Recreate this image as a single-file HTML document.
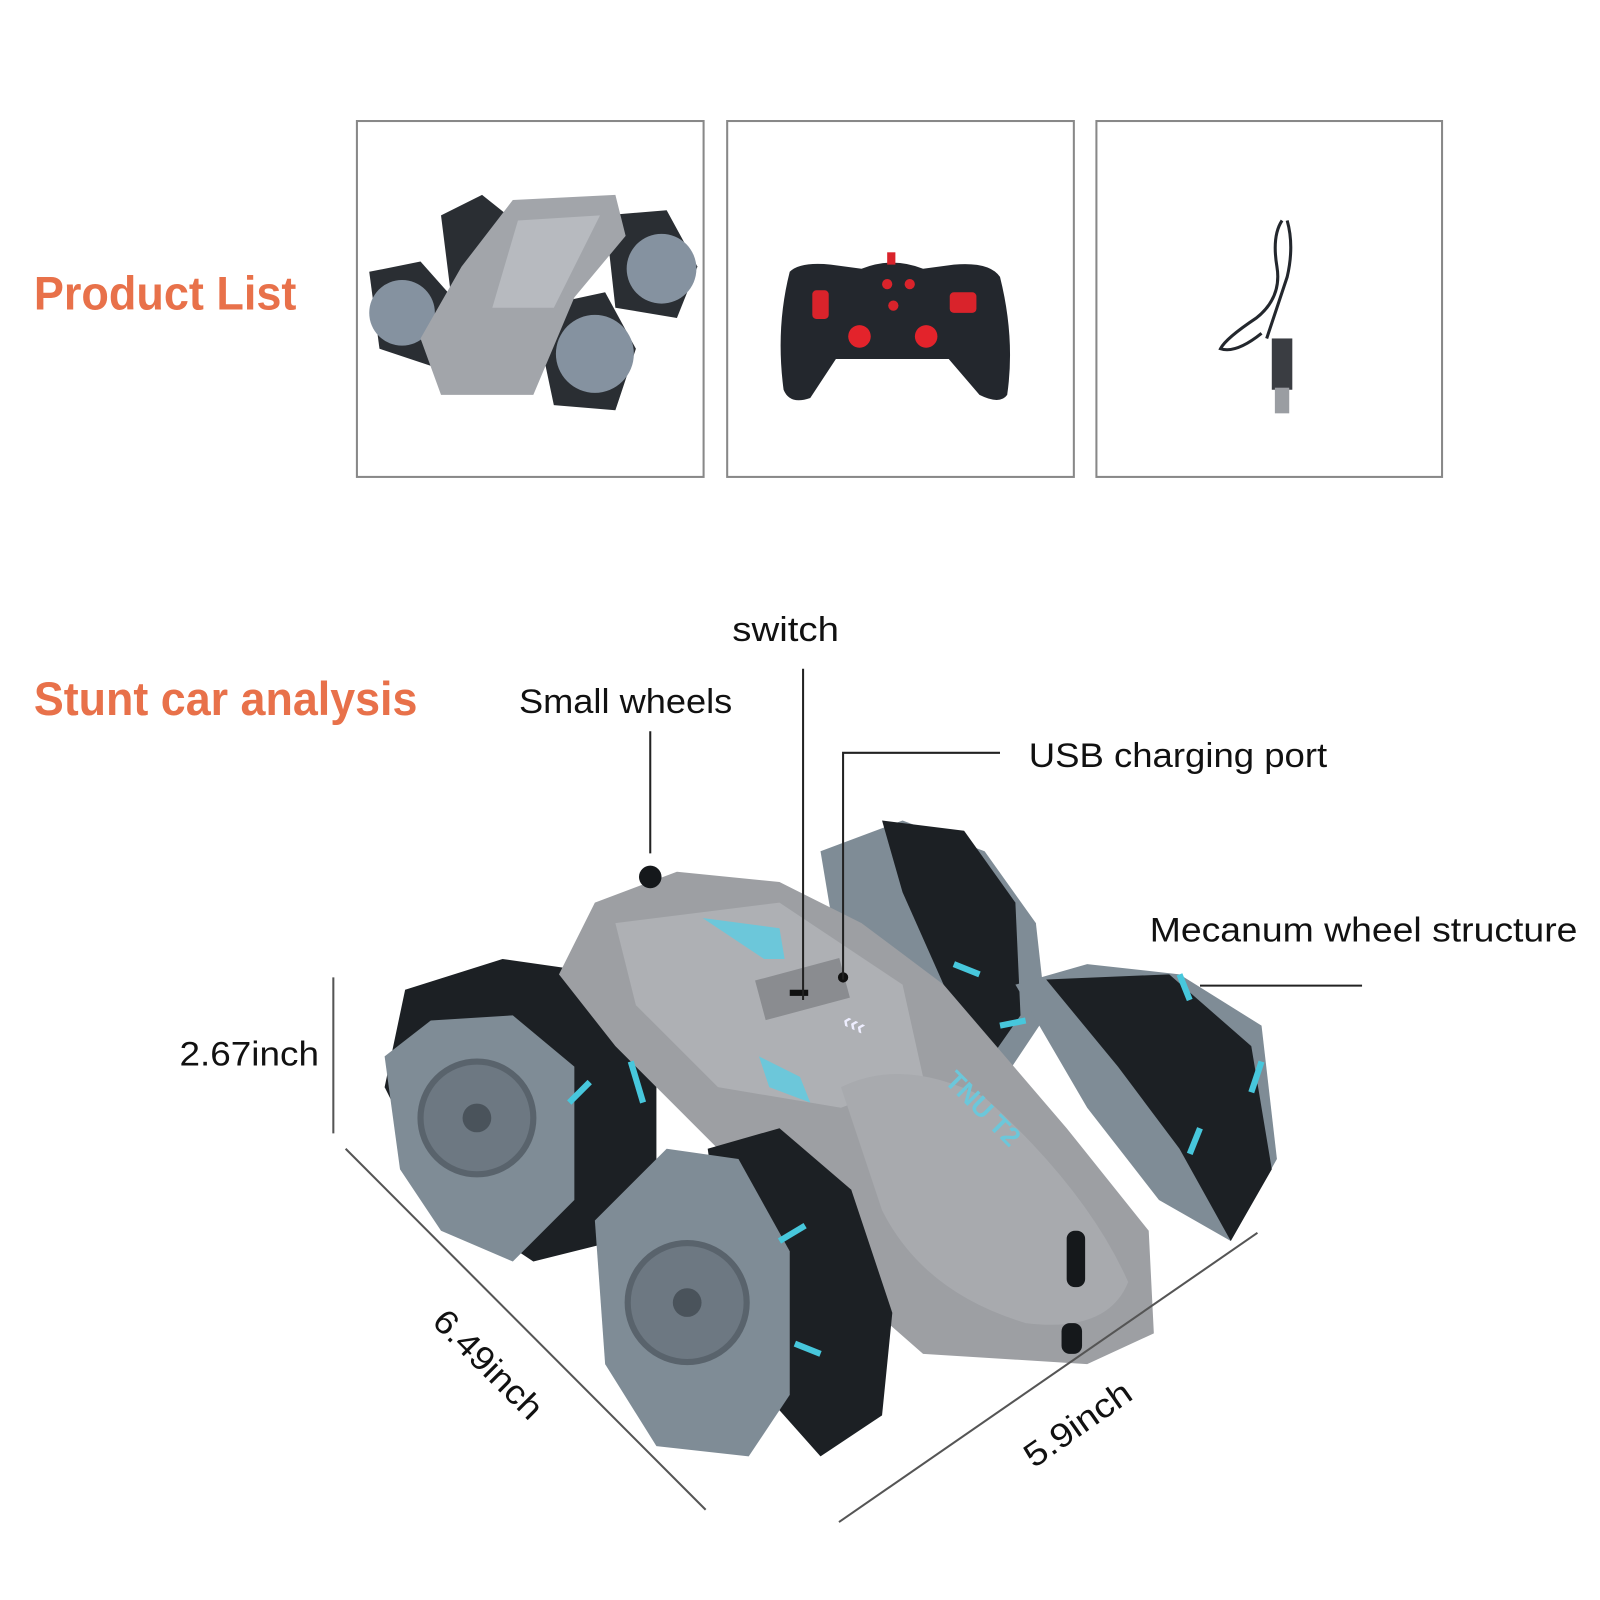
<!DOCTYPE html>
<html><head><meta charset="utf-8"><style>
html,body{margin:0;padding:0;background:#fff}
svg{display:block}
</style></head><body>
<svg width="1600" height="1600" viewBox="0 0 1560 1560" xmlns="http://www.w3.org/2000/svg" font-family="Liberation Sans, sans-serif">
<rect width="1560" height="1560" fill="#fff"/>
<g fill="none" stroke="#888" stroke-width="2">
<rect x="348" y="118" width="338" height="347"/>
<rect x="709" y="118" width="338" height="347"/>
<rect x="1069" y="118" width="337" height="347"/>
</g>
<text x="33" y="302" font-size="46" font-weight="bold" fill="#E8714A" textLength="256" lengthAdjust="spacingAndGlyphs">Product List</text>
<text x="33" y="697" font-size="46" font-weight="bold" fill="#E8714A" textLength="374" lengthAdjust="spacingAndGlyphs">Stunt car analysis</text>

<g>
<polygon points="430,210 470,190 520,230 500,300 440,290" fill="#2a2e33"/>
<polygon points="590,210 650,205 680,260 660,310 600,300" fill="#2a2e33"/>
<circle cx="645" cy="262" r="34" fill="#8592a0"/>
<polygon points="360,265 410,255 450,300 430,360 370,340" fill="#2a2e33"/>
<circle cx="392" cy="305" r="32" fill="#8592a0"/>
<polygon points="520,300 590,285 620,340 600,400 540,395" fill="#2a2e33"/>
<circle cx="580" cy="345" r="38" fill="#8592a0"/>
<polygon points="500,195 600,190 610,230 560,290 520,385 430,385 410,330 450,260" fill="#a2a5aa"/>
<polygon points="505,215 585,210 540,300 480,300" fill="#b7babf"/>
</g>

<g>
<path d="M770,265 Q780,255 810,258 L840,262 Q870,250 900,262 L930,258 Q965,255 975,270 Q990,330 982,385 Q975,395 955,385 L925,350 L815,350 L790,388 Q770,395 764,380 Q756,320 770,265 Z" fill="#23272d"/>
<rect x="792" y="283" width="16" height="28" rx="4" fill="#d9232b"/>
<rect x="926" y="285" width="26" height="20" rx="4" fill="#d9232b"/>
<circle cx="865" cy="277" r="5" fill="#d9232b"/><circle cx="887" cy="277" r="5" fill="#d9232b"/>
<circle cx="871" cy="298" r="5" fill="#d9232b"/>
<circle cx="838" cy="328" r="11" fill="#e3232b"/><circle cx="903" cy="328" r="11" fill="#e3232b"/>
<rect x="865" y="246" width="8" height="12" fill="#d9232b"/>
</g>

<g fill="none" stroke="#23272d" stroke-width="3">
<path d="M1250,215 Q1240,230 1245,260 Q1250,290 1225,310 Q1195,330 1190,340 Q1205,345 1230,325"/>
<path d="M1255,215 Q1262,240 1255,270 Q1245,300 1235,330"/>
<rect x="1240" y="330" width="20" height="50" fill="#3a3d42" stroke="none"/>
<rect x="1243" y="378" width="14" height="25" fill="#9a9da2" stroke="none"/>
</g>

<g>
<polygon points="800,830 880,800 960,830 1010,900 1020,990 980,1050 900,1030 820,950" fill="#7f8c96"/>
<polygon points="860,800 940,810 990,880 995,990 960,1040 920,960 880,870" fill="#1c2024"/>
<polygon points="990,960 1060,940 1150,950 1230,1000 1245,1130 1200,1210 1130,1170 1060,1080" fill="#7f8c96"/>
<polygon points="1020,955 1140,950 1220,1020 1240,1140 1200,1210 1150,1120 1090,1040" fill="#1c2024"/>
<polygon points="395,965 490,935 560,945 640,1040 640,1160 600,1210 520,1230 430,1170 375,1060" fill="#1c2024"/>
<polygon points="375,1030 420,995 500,990 560,1040 560,1170 500,1230 430,1200 390,1140" fill="#7f8c96"/>
<circle cx="465" cy="1090" r="55" fill="#6d7882" stroke="#59636c" stroke-width="6"/>
<circle cx="465" cy="1090" r="14" fill="#4a535b"/>
<polygon points="580,880 660,850 760,860 840,900 920,960 1040,1100 1120,1200 1125,1300 1060,1330 900,1320 820,1250 720,1140 600,1020 545,950" fill="#9d9fa3"/>
<polygon points="600,900 760,880 880,960 900,1050 820,1080 700,1060 620,980" fill="#aeb0b4"/>
<path d="M820,1060 Q880,1030 960,1070 Q1060,1160 1100,1250 Q1080,1300 1000,1290 Q900,1260 860,1180 Z" fill="#a8aaae"/>
<polygon points="685,895 760,905 765,935 745,935" fill="#6cc7da"/>
<polygon points="740,1030 780,1050 790,1075 750,1060" fill="#6cc7da"/>
<rect x="740" y="945" width="85" height="40" fill="#8a8c90" transform="rotate(-15 780 965)"/>
<rect x="770" y="965" width="18" height="6" fill="#111"/>
<circle cx="822" cy="953" r="5" fill="#111"/>
<text x="820" y="1000" font-size="22" fill="#eef" font-weight="bold" transform="rotate(25 820 1000)">&#8249;&#8249;&#8249;</text>
<text x="920" y="1055" font-size="26" fill="#6cc7da" font-weight="bold" transform="rotate(45 920 1055)">TNU T2</text>
<rect x="1040" y="1200" width="18" height="55" rx="8" fill="#15181b"/>
<rect x="1035" y="1290" width="20" height="30" rx="8" fill="#15181b"/>
<circle cx="634" cy="855" r="11" fill="#15181b"/>
<polygon points="690,1120 760,1100 830,1160 870,1280 860,1380 800,1420 720,1330" fill="#1c2024"/>
<polygon points="580,1190 650,1120 720,1130 770,1220 770,1360 730,1420 640,1410 590,1330" fill="#7f8c96"/>
<circle cx="670" cy="1270" r="58" fill="#6d7882" stroke="#59636c" stroke-width="6"/>
<circle cx="670" cy="1270" r="14" fill="#4a535b"/>
<g stroke="#47c7dc" stroke-width="6" fill="none">
<path d="M615,1035 l12,40"/><path d="M555,1075 l20,-20"/><path d="M760,1210 l25,-15"/><path d="M775,1310 l25,10"/>
<path d="M930,940 l25,10"/><path d="M975,1000 l25,-5"/><path d="M1150,950 l10,25"/><path d="M1230,1035 l-10,30"/><path d="M1170,1100 l-10,25"/>
</g>
</g>

<g stroke="#222" stroke-width="2" fill="none">
<line x1="634" y1="713" x2="634" y2="832"/>
<line x1="783" y1="652" x2="783" y2="975"/>
<polyline points="975,734 822,734 822,955"/>
<line x1="1170" y1="961" x2="1328" y2="961"/>
</g>
<g stroke="#555" stroke-width="2" fill="none">
<line x1="325" y1="953" x2="325" y2="1105"/>
<line x1="337" y1="1120" x2="688" y2="1472"/>
<line x1="818" y1="1484" x2="1226" y2="1202"/>
</g>

<g font-size="33" fill="#111">
<text x="714" y="625" textLength="104" lengthAdjust="spacingAndGlyphs">switch</text>
<text x="506" y="695" textLength="208" lengthAdjust="spacingAndGlyphs">Small wheels</text>
<text x="1003" y="748" textLength="291" lengthAdjust="spacingAndGlyphs">USB charging port</text>
<text x="1121" y="918" textLength="417" lengthAdjust="spacingAndGlyphs">Mecanum wheel structure</text>
<text x="175" y="1039" textLength="136" lengthAdjust="spacingAndGlyphs">2.67inch</text>
<text x="0" y="0" textLength="136" lengthAdjust="spacingAndGlyphs" transform="translate(420,1290) rotate(45)">6.49inch</text>
<text x="0" y="0" textLength="120" lengthAdjust="spacingAndGlyphs" transform="translate(1008,1432) rotate(-35)">5.9inch</text>
</g>
</svg>
</body></html>
